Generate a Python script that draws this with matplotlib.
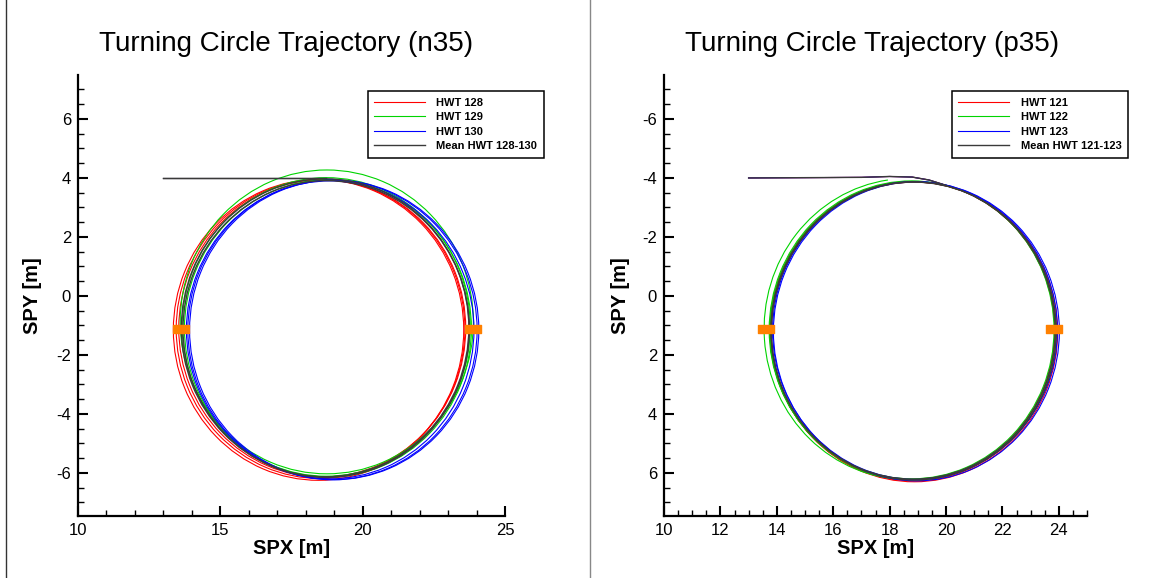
import matplotlib
matplotlib.use("Agg")
import matplotlib.pyplot as plt
from matplotlib.patches import Arc
from matplotlib.lines import Line2D
from matplotlib.path import Path
from matplotlib.ticker import MultipleLocator

plt.rcParams['font.family'] = ['Liberation Sans', 'DejaVu Sans']
plt.rcParams['axes.unicode_minus'] = False

# ---------------- data: left panel (n35) ----------------
n35_title = "Turning Circle Trajectory (n35)"
n35_labels = ["HWT 128", "HWT 129", "HWT 130", "Mean HWT 128-130"]
# loops of each run: centre x, centre y, radius, start/end angle (deg)
n35_loop_cx = [[18.45, 18.52, 18.58], [18.74, 18.72, 18.78], [18.86, 18.94, 19.00], [18.68, 18.72]]
n35_loop_cy = [[-1.15, -1.12, -1.10], [-0.88, -1.05, -1.10], [-1.15, -1.15, -1.15], [-1.08, -1.12]]
n35_loop_r = [[5.10, 5.07, 5.04], [5.15, 5.06, 5.04], [5.05, 5.08, 5.08], [5.05, 5.03]]
n35_loop_t1 = [[0, 0, 0], [0, 0, 0], [0, 0, 0], [0, 0]]
n35_loop_t2 = [[360, 360, 360], [360, 360, 360], [360, 360, 360], [360, 360]]
n35_approach_x = [13.0, 18.7]
n35_approach_y = [4.0, 4.0]
n35_marker_x = [13.62, 23.86]
n35_marker_y = [-1.12, -1.12]

# ---------------- data: right panel (p35) ----------------
p35_title = "Turning Circle Trajectory (p35)"
p35_labels = ["HWT 121", "HWT 122", "HWT 123", "Mean HWT 121-123"]
p35_loop_cx = [[18.80, 18.84, 18.88], [18.65, 18.78, 18.82], [18.90, 18.95], [18.83, 18.86]]
p35_loop_cy = [[1.17, 1.20, 1.22], [1.12, 1.15, 1.18], [1.17, 1.20], [1.17, 1.19]]
p35_loop_r = [[5.05, 5.07, 5.08], [5.10, 5.05, 5.06], [5.05, 5.07], [5.04, 5.05]]
p35_loop_t1 = [[0, 0, 0], [90, 0, 0], [0, 0], [0, 0]]
p35_loop_t2 = [[360, 360, 360], [262, 360, 360], [360, 360], [360, 360]]
p35_approach_x = [13.0, 17.0, 18.0, 18.8, 19.4, 20.0]
p35_approach_y = [-4.0, -4.02, -4.05, -4.03, -3.93, -3.75]
p35_marker_x = [13.60, 23.84]
p35_marker_y = [1.12, 1.12]

run_colors = ['#ff0000', '#00d400', '#0000ff', '#3a3a3a']
run_widths = [0.8, 0.8, 0.8, 1.0]
marker_color = '#ff8000'

W, H = 1154, 578
fig = plt.figure(figsize=(W / 100, H / 100), dpi=100)

rect_marker = Path([(-1, -0.48), (1, -0.48), (1, 0.48), (-1, 0.48), (-1, -0.48)],
                   [Path.MOVETO, Path.LINETO, Path.LINETO, Path.LINETO, Path.CLOSEPOLY])


def panel(ax_rect, title, title_x, labels, cx, cy, rr, t1, t2, ax_x, ax_y,
          mk_x, mk_y, xmajor, xminor, invert, green_no_approach, leg_right):
    ax = fig.add_axes(ax_rect)
    handles = []
    for i in range(4):
        if not (green_no_approach and i == 1):
            ax.plot(ax_x, ax_y, color=run_colors[i], lw=run_widths[i], zorder=2 + i)
        for j in range(len(cx[i])):
            ax.add_patch(Arc((cx[i][j], cy[i][j]), 2 * rr[i][j], 2 * rr[i][j],
                             theta1=t1[i][j], theta2=t2[i][j],
                             color=run_colors[i], lw=run_widths[i], zorder=2 + i))
        handles.append(Line2D([], [], color=run_colors[i], lw=run_widths[i]))
    ax.plot(mk_x, mk_y, ls='none', marker=rect_marker, ms=11.5,
            color=marker_color, mec=marker_color, zorder=10)

    ax.set_xlim(10, 25)
    if invert:
        ax.set_ylim(7.46, -7.49)
    else:
        ax.set_ylim(-7.46, 7.49)
    ax.xaxis.set_major_locator(MultipleLocator(xmajor))
    ax.xaxis.set_minor_locator(MultipleLocator(xminor))
    ax.yaxis.set_major_locator(MultipleLocator(2))
    ax.yaxis.set_minor_locator(MultipleLocator(0.5))
    for s in ['top', 'right']:
        ax.spines[s].set_visible(False)
    for s in ['left', 'bottom']:
        ax.spines[s].set_linewidth(1.6)
    ax.tick_params(which='major', direction='in', length=7.5, width=1.5,
                   labelsize=12, pad=5)
    ax.tick_params(which='minor', direction='in', length=4.5, width=1.0)
    ax.set_xticks([t for t in ax.get_xticks() if 10 <= t <= 25])

    leg = fig.legend(handles, labels, loc='upper right',
                     bbox_to_anchor=(leg_right / W, 1 - 91 / H),
                     bbox_transform=fig.transFigure,
                     prop={'weight': 'bold', 'size': 8},
                     frameon=True, fancybox=False, framealpha=1,
                     edgecolor='black', handlelength=4.6, handletextpad=1.0,
                     labelspacing=0.4, borderpad=0.6, borderaxespad=0)
    leg.get_frame().set_linewidth(1.1)

    fig.text(title_x / W, 1 - 44 / H, title, fontsize=20, ha='center', va='center')
    cxp = (ax_rect[0] + ax_rect[2] / 2)
    fig.text(cxp, 1 - 548 / H, "SPX [m]", fontsize=14.5, fontweight='bold',
             ha='center', va='center')
    return ax


axL = panel([78 / W, 1 - 516 / H, 427 / W, 441 / H], n35_title, 286, n35_labels,
            n35_loop_cx, n35_loop_cy, n35_loop_r, n35_loop_t1, n35_loop_t2,
            n35_approach_x, n35_approach_y, n35_marker_x, n35_marker_y,
            5, 1, False, False, 544)
fig.text(33 / W, 1 - 296 / H, "SPY [m]", fontsize=14.5, fontweight='bold',
         rotation=90, ha='center', va='center')

axR = panel([664 / W, 1 - 516 / H, 423 / W, 441 / H], p35_title, 872, p35_labels,
            p35_loop_cx, p35_loop_cy, p35_loop_r, p35_loop_t1, p35_loop_t2,
            p35_approach_x, p35_approach_y, p35_marker_x, p35_marker_y,
            2, 0.5, True, True, 1128)
fig.text(620 / W, 1 - 296 / H, "SPY [m]", fontsize=14.5, fontweight='bold',
         rotation=90, ha='center', va='center')

# panel frame lines
fig.add_artist(Line2D([6 / W, 6 / W], [0, 1], color='#333333', lw=1.0,
                      transform=fig.transFigure))
fig.add_artist(Line2D([590 / W, 590 / W], [0, 1], color='#888888', lw=1.0,
                      transform=fig.transFigure))

fig.savefig("out.png", dpi=100)
